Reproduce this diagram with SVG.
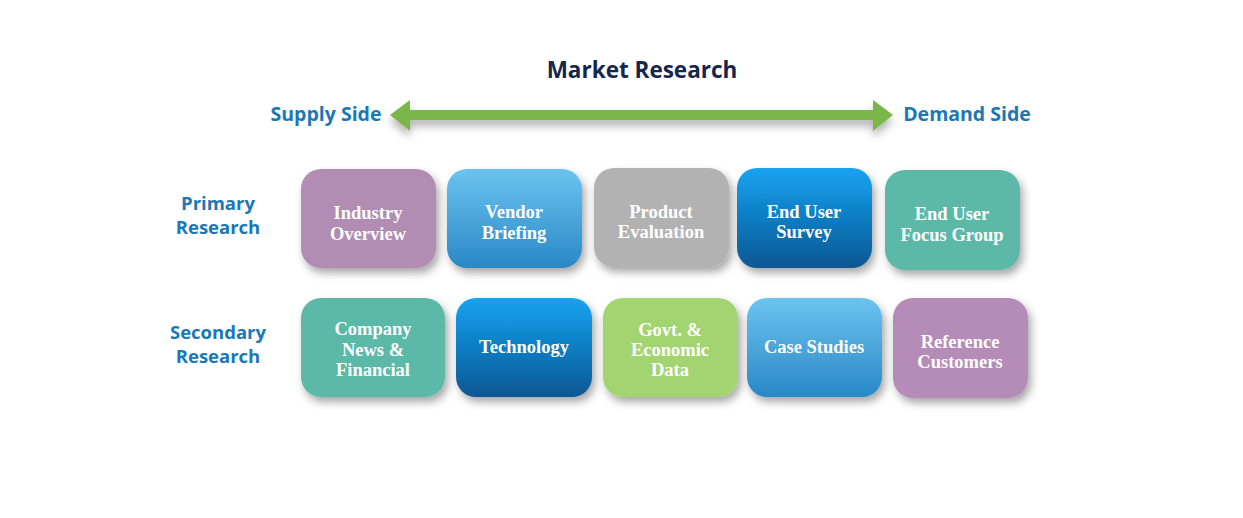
<svg xmlns="http://www.w3.org/2000/svg" width="1243" height="518" viewBox="0 0 1243 518">
<defs>
<filter id="sh" x="-20%" y="-20%" width="150%" height="160%">
<feDropShadow dx="3" dy="5" stdDeviation="4" flood-color="#000" flood-opacity="0.35"/>
</filter>
<filter id="ash" x="-5%" y="-50%" width="110%" height="250%">
<feDropShadow dx="0" dy="6" stdDeviation="4" flood-color="#000" flood-opacity="0.3"/>
</filter>
<linearGradient id="lb" x1="0" y1="0" x2="0" y2="1">
<stop offset="0" stop-color="#6cc3f0"/>
<stop offset="1" stop-color="#2988c6"/>
</linearGradient>
<linearGradient id="db" x1="0" y1="0" x2="0" y2="1">
<stop offset="0" stop-color="#15a3f2"/>
<stop offset="1" stop-color="#0a5793"/>
</linearGradient>
<style>
.box{filter:url(#sh);}
.t{font-family:"Liberation Serif","DejaVu Serif",serif;font-weight:bold;font-size:18.5px;fill:#fff;text-anchor:middle;}
.lbl{font-family:"Open Sans","Liberation Sans",sans-serif;font-weight:bold;font-size:18.5px;fill:#1a78b8;text-anchor:middle;}
.title{font-family:"Open Sans","Liberation Sans",sans-serif;font-weight:bold;font-size:22.5px;fill:#15264f;text-anchor:middle;}
</style>
</defs>
<rect width="1243" height="518" fill="#fff"/>
<text class="title" x="642" y="78">Market Research</text>
<text class="lbl" x="326" y="121" style="font-size:19.5px">Supply Side</text>
<text class="lbl" x="967" y="121" style="font-size:19.5px">Demand Side</text>
<g id="connectors">
<polygon filter="url(#ash)" fill="#7ab648" points="390,115 410,100 410,110 873,110 873,100 893,115 873,131 873,120 410,120 410,131"/>
</g>
<text class="lbl" x="218" y="210">Primary</text>
<text class="lbl" x="218" y="234">Research</text>
<text class="lbl" x="218" y="339">Secondary</text>
<text class="lbl" x="218" y="363">Research</text>
<g id="industry"><rect class="box" x="301" y="169" width="135" height="99" rx="20" fill="#b18db3"/><text class="t" x="368" y="219">Industry</text><text class="t" x="368" y="240">Overview</text></g>
<g id="vendor"><rect class="box" x="447" y="169" width="135" height="99" rx="20" fill="url(#lb)"/><text class="t" x="514" y="218">Vendor</text><text class="t" x="514" y="239">Briefing</text></g>
<g id="product"><rect class="box" x="594" y="168" width="135" height="99" rx="20" fill="#b2b2b2"/><text class="t" x="661" y="218">Product</text><text class="t" x="661" y="238">Evaluation</text></g>
<g id="survey"><rect class="box" x="737" y="168" width="135" height="100" rx="20" fill="url(#db)"/><text class="t" x="804" y="218">End User</text><text class="t" x="804" y="238">Survey</text></g>
<g id="focus"><rect class="box" x="885" y="170" width="135" height="100" rx="20" fill="#5cb9a7"/><text class="t" x="952" y="220">End User</text><text class="t" x="952" y="241">Focus Group</text></g>
<g id="company"><rect class="box" x="301" y="298" width="144" height="99" rx="20" fill="#5cb9a7"/><text class="t" x="373" y="335">Company</text><text class="t" x="373" y="356">News &amp;</text><text class="t" x="373" y="376">Financial</text></g>
<g id="technology"><rect class="box" x="456" y="298" width="136" height="99" rx="20" fill="url(#db)"/><text class="t" x="524" y="353">Technology</text></g>
<g id="govt"><rect class="box" x="603" y="298" width="135" height="99" rx="20" fill="#a2d571"/><text class="t" x="670" y="336">Govt. &amp;</text><text class="t" x="670" y="356">Economic</text><text class="t" x="670" y="376">Data</text></g>
<g id="case"><rect class="box" x="747" y="298" width="135" height="99" rx="20" fill="url(#lb)"/><text class="t" x="814" y="353">Case Studies</text></g>
<g id="reference"><rect class="box" x="893" y="298" width="135" height="100" rx="20" fill="#b58cb7"/><text class="t" x="960" y="348">Reference</text><text class="t" x="960" y="368">Customers</text></g>
</svg>
